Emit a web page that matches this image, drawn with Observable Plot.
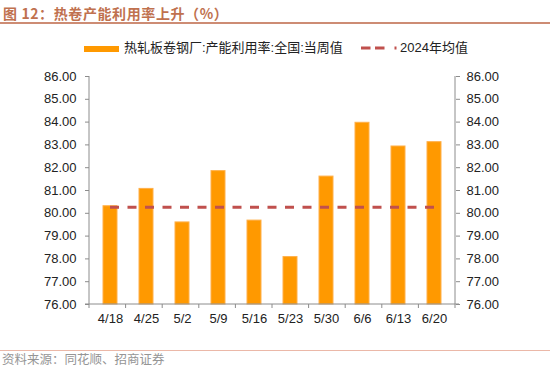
<!DOCTYPE html>
<html>
<head>
<meta charset="utf-8">
<script src="https://cdn.jsdelivr.net/npm/d3@7"></script>
<script src="https://cdn.jsdelivr.net/npm/@observablehq/plot@0.6"></script>
<style>
  body { margin: 0; background: #fff; font-family: "Liberation Sans", Arial, "Noto Sans CJK SC", sans-serif; }
  #wrap { position: relative; width: 550px; height: 381px; overflow: hidden; }
  .abs { position: absolute; white-space: nowrap; }
  #title { left: 3px; top: 4px; font: bold 14px "Noto Sans CJK SC", sans-serif; color: #C0714F; line-height: 18px; letter-spacing: 0.6px; }
  #tline { left: 0; top: 22px; width: 550px; height: 2px; background: #CD8C74; }
  .leg { font: 13px "Liberation Sans", "Noto Sans CJK SC", sans-serif; color: #222; line-height: 16px; }
  #chart { left: 0; top: 60px; }
  #cline { left: 0; top: 350px; width: 550px; height: 1px; background: #EBB8A8; }
  #src { left: 2px; top: 351px; font: 12.5px "Noto Sans CJK SC", sans-serif; color: #959595; line-height: 16px; }
</style>
</head>
<body>
<div id="wrap">
  <div id="title" class="abs">图 12：热卷产能利用率上升（%）</div>
  <div id="tline" class="abs"></div>
  <svg class="abs" style="left:84px;top:45px" width="36" height="8"><rect x="0" y="1" width="35" height="6" fill="#FF9900"></rect></svg>
  <div class="abs leg" style="left:124px;top:40px">热轧板卷钢厂:产能利用率:全国:当周值</div>
  <svg class="abs" style="left:358px;top:44px" width="42" height="8"><line x1="3" x2="39" y1="4" y2="4" stroke="#C0504D" stroke-width="3" stroke-dasharray="9.5,4.5,9.5,10,2,100"></line></svg>
  <div class="abs leg" style="left:400px;top:40px">2024年均值</div>
  <div id="chart" class="abs"></div>
  <div id="cline" class="abs"></div>
  <div id="src" class="abs">资料来源：同花顺、招商证券</div>
</div>
<script>
const weeks = ["4/18", "4/25", "5/2", "5/9", "5/16", "5/23", "5/30", "6/6", "6/13", "6/20"];
const utilization = [80.31, 81.07, 79.60, 81.85, 79.68, 78.08, 81.61, 83.97, 82.93, 83.12];
const avg2024 = 80.24;
const yTicks = [76, 77, 78, 79, 80, 81, 82, 83, 84, 85, 86];

const data = weeks.map((w, i) => ({week: w, value: utilization[i]}));
const yMin = yTicks[0], yMax = yTicks[yTicks.length - 1];

const axisLines = (index, scales, values, dims) => {
  const {marginLeft: l, marginRight: r, marginTop: t, marginBottom: b, width: w, height: h} = dims;
  const g = d3.create("svg:g").attr("stroke", "#8c8c8c").attr("stroke-width", 1).attr("fill", "none");
  const yb = scales.y(yMin), yt = scales.y(yMax);
  g.append("line").attr("x1", l - 4).attr("x2", w - r + 4).attr("y1", yb).attr("y2", yb);
  g.append("line").attr("x1", l).attr("x2", l).attr("y1", yt).attr("y2", yb);
  g.append("line").attr("x1", w - r).attr("x2", w - r).attr("y1", yt).attr("y2", yb);
  const step = (w - l - r) / weeks.length;
  for (let i = 0; i <= weeks.length; i++) {
    const x = l + i * step;
    g.append("line").attr("x1", x).attr("x2", x).attr("y1", yb).attr("y2", yb + 4);
  }
  return g.node();
};

const avgLine = (index, scales, values, dims) => {
  const x1 = scales.x(weeks[0]) + scales.x.bandwidth() / 2;
  const x2 = scales.x(weeks[weeks.length - 1]) + scales.x.bandwidth() / 2;
  const y = scales.y(avg2024);
  return d3.create("svg:line").attr("x1", x1).attr("x2", x2).attr("y1", y).attr("y2", y)
    .attr("stroke", "#C0504D").attr("stroke-width", 3).attr("stroke-dasharray", "9,8.5").node();
};

const chart = Plot.plot({
  width: 550,
  height: 275,
  marginLeft: 89,
  marginRight: 95,
  marginTop: 16,
  marginBottom: 31,
  style: {fontFamily: "'Liberation Sans', Arial, sans-serif", fontSize: "13px", color: "#222", background: "#fff"},
  x: {domain: weeks, paddingInner: 0.6, paddingOuter: 0.3},
  y: {domain: [yMin, yMax]},
  marks: [
    Plot.barY(data, {x: "week", y1: yMin, y2: "value", fill: "#FF9900", stroke: "#FFB04A", strokeWidth: 1}),
    avgLine,
    axisLines,
    Plot.axisY({anchor: "left", ticks: yTicks, tickFormat: d => d.toFixed(2), tickSize: 4, tickPadding: 9, stroke: "#8c8c8c", fill: "#222", fontSize: 13, label: null}),
    Plot.axisY({anchor: "right", ticks: yTicks, tickFormat: d => d.toFixed(2), tickSize: 4, tickPadding: 7, stroke: "#8c8c8c", fill: "#222", fontSize: 13, label: null}),
    Plot.axisX({tickSize: 0, tickPadding: 9, fill: "#222", fontSize: 13, label: null})
  ]
});
document.getElementById("chart").appendChild(chart);
</script>
</body>
</html>
